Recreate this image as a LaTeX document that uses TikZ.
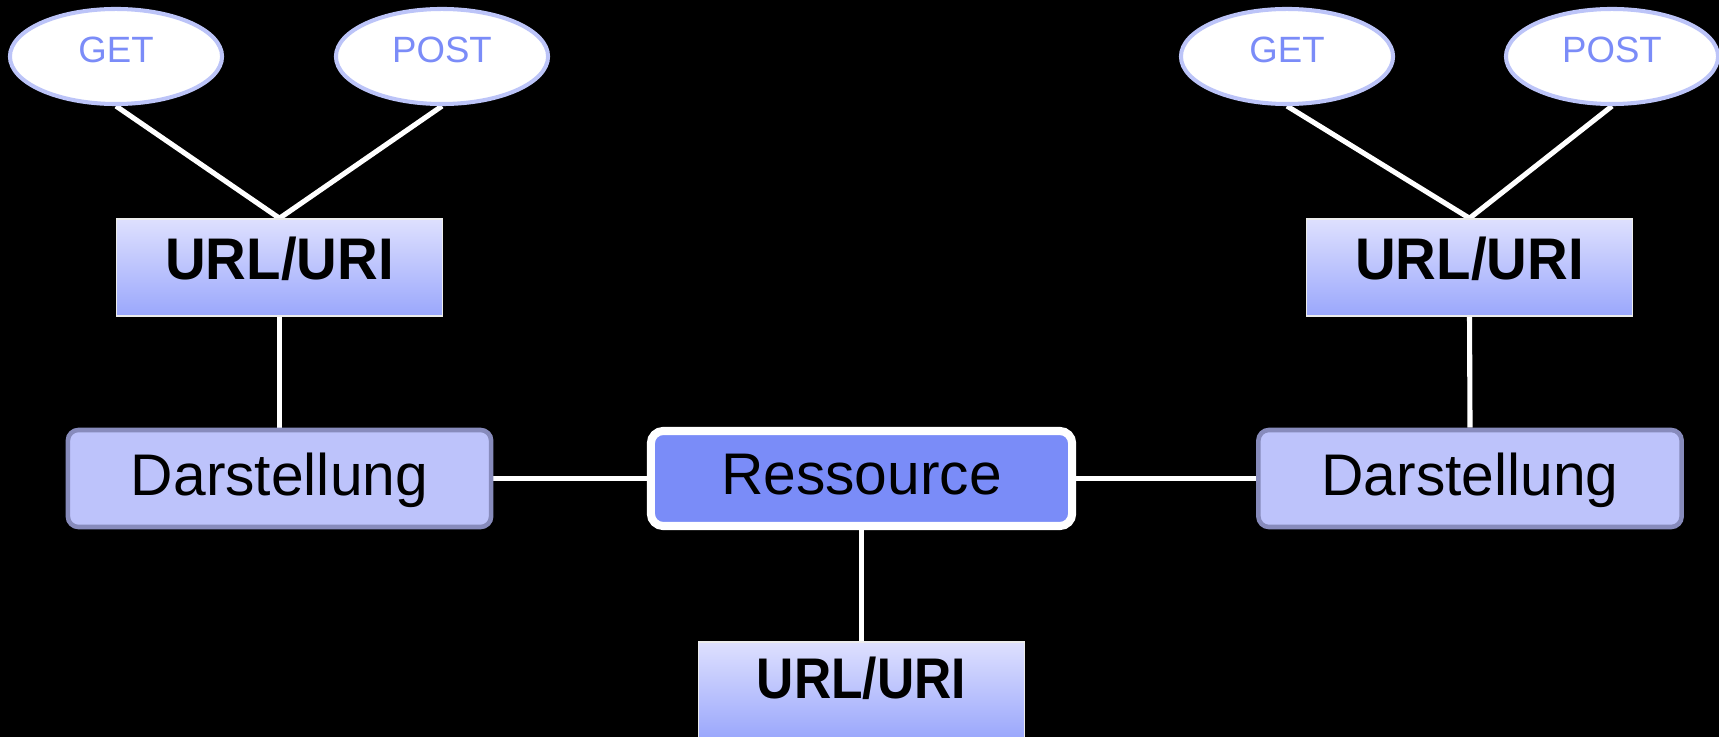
\documentclass[tikz,border=0pt]{standalone}
\usepackage{fontspec}
\setmainfont{Liberation Sans}
\usetikzlibrary{shapes.geometric,backgrounds}
\definecolor{methodtext}{HTML}{7B8CF8}
\definecolor{methodrim}{HTML}{BCC4F8}
\definecolor{urltop}{HTML}{DEE0FE}
\definecolor{urlbottom}{HTML}{9AA7FC}
\definecolor{reprfill}{HTML}{BDC3FB}
\definecolor{reprrim}{HTML}{878BBC}
\definecolor{resfill}{HTML}{7A8CF8}
\tikzset{
  x=0.01cm, y=-0.01cm,
  method/.style={ellipse, draw=methodrim, line width=1.15pt, fill=white,
    minimum width=2.12cm, minimum height=0.95cm, inner sep=0pt,
    text=methodtext, font=\fontsize{10.4pt}{12pt}\selectfont, text depth=0.13cm},
  urlbox/.style={rectangle, draw=white!85!gray, line width=0.4pt,
    top color=urltop, bottom color=urlbottom,
    minimum width=3.26cm, minimum height=0.97cm, inner sep=0pt,
    font=\fontsize{16.7pt}{19pt}\selectfont\bfseries, text depth=0.19cm},
  reprbox/.style={rectangle, rounded corners=3pt, draw=reprrim, line width=1.3pt,
    fill=reprfill, minimum width=4.23cm, minimum height=0.97cm, inner sep=0pt,
    font=\fontsize{16.7pt}{19pt}\selectfont, text depth=0.09cm},
  resbox/.style={rectangle, rounded corners=3.5pt, draw=white, line width=2.3pt,
    fill=resfill, minimum width=4.21cm, minimum height=0.95cm, inner sep=0pt,
    font=\fontsize{16.7pt}{19pt}\selectfont, text depth=0.09cm},
  link/.style={draw=white, line width=1.45pt}
}
\newcommand{\urltext}[1]{\scalebox{#1}[1]{URL/URI}}
\begin{document}
\begin{tikzpicture}
  \useasboundingbox (0,0) rectangle (1719,737);
  % left branch
  \node[method] (getL)  at (116,56.5) {GET};
  \node[method] (postL) at (442,56.5) {POST};
  \node[urlbox] (urlL)  at (279.5,267.5) {\urltext{0.96}};
  \node[reprbox] (reprL) at (279.5,478.5) {Darstellung};
  % centre
  \node[resbox] (res) at (861.5,478.5) {Ressource};
  \node[urlbox, font=\fontsize{16.3pt}{19pt}\selectfont\bfseries, text depth=0.26cm] (urlC) at (861.5,690.5) {\urltext{0.9}};
  % right branch
  \node[method] (getR)  at (1287,56.5) {GET};
  \node[method] (postR) at (1612,56.5) {POST};
  \node[urlbox] (urlR)  at (1469.5,267.5) {\urltext{0.96}};
  \node[reprbox] (reprR) at (1470,478.5) {Darstellung};

  \begin{scope}[on background layer]
    \fill[black] (0,0) rectangle (1719,737);
    \draw[link] (getL.south) -- (urlL.north);
    \draw[link] (postL.south) -- (urlL.north);
    \draw[link] (urlL.south) -- (reprL.north);
    \draw[link] (reprL.east) -- (res.west);
    \draw[link] (res.east) -- (reprR.west);
    \draw[link] (res.south) -- (urlC.north);
    \draw[link] (getR.south) -- (urlR.north);
    \draw[link] (postR.south) -- (urlR.north);
    \draw[link] (urlR.south) -- (reprR.north);
  \end{scope}
\end{tikzpicture}
\end{document}
